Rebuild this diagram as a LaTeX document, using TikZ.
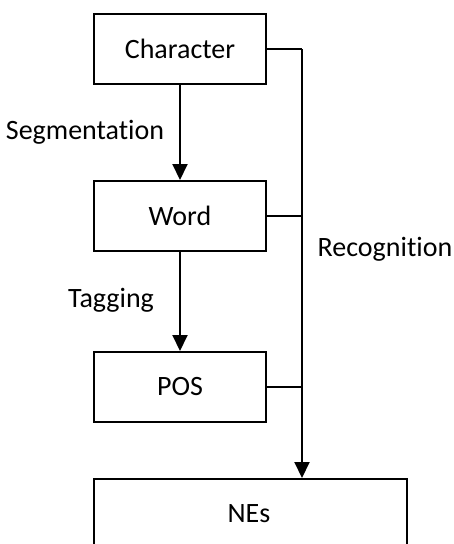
\documentclass[tikz,border=0pt]{standalone}
\usepackage{fontspec}
\setmainfont{Carlito}[Ligatures=NoCommon]
\usetikzlibrary{arrows.meta}
\begin{document}
\begin{tikzpicture}[x=1pt,y=-1pt,
  box/.style={draw=black, line width=2pt, fill=white, minimum width=172pt, minimum height=70pt, inner sep=0pt, font=\fontsize{28}{33}\selectfont},
  lbl/.style={font=\fontsize{28}{33}\selectfont, inner sep=0pt},
  conn/.style={line width=2pt},
  flow/.style={line width=2pt, -{Triangle[length=16pt,width=15pt]}}]
  \useasboundingbox (0,0) rectangle (454,544);
  \clip (0,0) rectangle (454,544);
  % processing stages
  \node[box] (char) at (180,49) {Character};
  \node[box] (word) at (180,216) {Word};
  \node[box] (pos)  at (180,387) {POS};
  \node[box, minimum width=313pt, minimum height=90pt, anchor=north west] (nes) at (93,478) {};
  \node[lbl] (nestext) at (249,514) {NEs};
  % merge line on the right
  \coordinate (bus) at (302,49);
  \coordinate (nesin) at (302,478);
  \draw[conn] (char.east |- bus) -- (bus);
  \draw[conn] (word.east) -- (word.east -| bus);
  \draw[conn] (pos.east) -- (pos.east -| bus);
  \draw[flow] (bus) -- (nesin);
  % sequential steps
  \draw[flow] (char) -- (word);
  \draw[flow] (word) -- (pos);
  % step labels
  \node[lbl] (seg) at (85,132) {Segmentation};
  \node[lbl] (tag) at (111,300) {Tagging};
  \node[lbl] (rec) at (385,249) {Recognition};
\end{tikzpicture}
\end{document}
